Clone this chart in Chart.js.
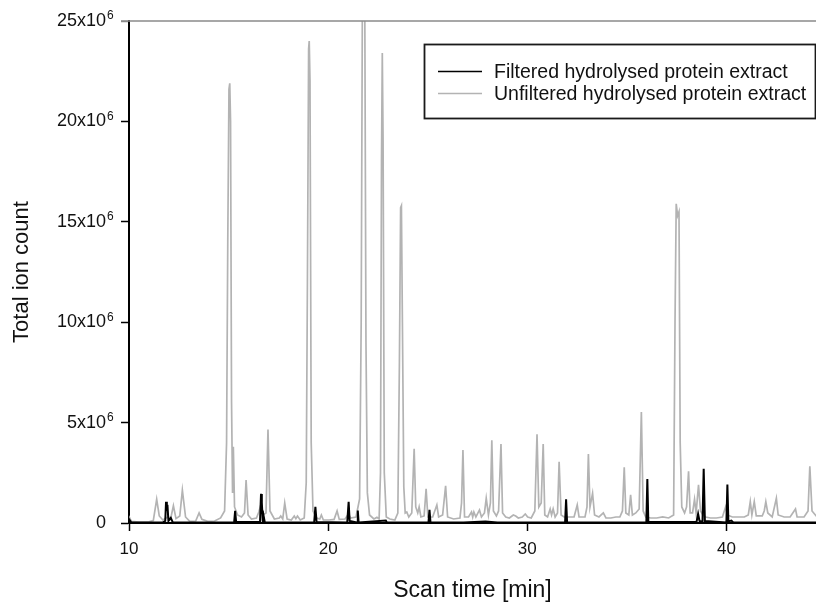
<!DOCTYPE html>
<html>
<head>
<meta charset="utf-8">
<script src="https://cdn.jsdelivr.net/npm/chart.js@4/dist/chart.umd.min.js"></script>
<style>
  html, body { margin: 0; padding: 0; background: #fff; }
  #wrap { width: 816px; height: 605px; position: relative; }
</style>
</head>
<body>
<div id="wrap"><canvas id="c" width="816" height="605"></canvas></div>
<script>
// ---- data (scan time in min, total ion count in units of 10^6) ----
const seriesLabels = ['Filtered hydrolysed protein extract', 'Unfiltered hydrolysed protein extract'];
const yTickValues = [0, 5, 10, 15, 20, 25];
const yTickExponent = '6';
const xTickValues = [10, 20, 30, 40];

const filteredTime = [10.00,10.05,10.12,11.70,11.82,11.86,11.90,11.93,11.98,12.10,12.20,13.50,14.50,15.28,15.33,15.38,15.55,16.58,16.63,16.67,16.72,16.76,16.82,19.30,19.36,19.42,20.96,21.03,21.08,21.45,21.49,21.53,22.90,22.95,24.00,25.04,25.09,25.14,26.80,27.90,28.50,31.90,31.95,32.00,34.40,35.98,36.03,36.08,38.50,38.58,38.65,38.80,38.86,38.92,40.00,40.05,40.10,40.25,40.35,44.55];
const filteredCount = [0.02,0.12,0.02,0.03,0.10,1.06,0.60,0.90,0.10,0.25,0.03,0.03,0.03,0.03,0.60,0.05,0.05,0.05,1.45,1.00,0.05,0.35,0.03,0.03,0.80,0.05,0.03,1.06,0.10,0.03,0.62,0.03,0.12,0.03,0.03,0.03,0.65,0.03,0.03,0.08,0.03,0.03,1.18,0.03,0.03,0.03,2.19,0.05,0.05,0.45,0.10,0.05,2.70,0.10,0.03,1.92,0.08,0.12,0.03,0.03];

const unfilteredTime = [10.00,10.05,10.12,10.50,11.00,11.22,11.39,11.52,11.70,11.95,12.10,12.23,12.36,12.55,12.68,12.84,13.05,13.35,13.52,13.66,13.95,14.30,14.60,14.80,14.90,14.96,15.02,15.06,15.10,15.15,15.20,15.24,15.30,15.45,15.65,15.80,15.88,15.98,16.15,16.40,16.52,16.62,16.72,16.88,16.98,17.08,17.30,17.55,17.62,17.72,17.82,17.94,18.15,18.30,18.38,18.46,18.60,18.80,18.90,18.96,19.02,19.05,19.09,19.15,19.24,19.42,19.58,19.66,19.76,20.05,20.30,20.45,20.56,20.85,21.02,21.12,21.40,21.58,21.66,21.72,21.84,21.90,21.97,22.08,22.30,22.45,22.56,22.63,22.68,22.72,22.76,22.82,22.92,23.10,23.35,23.50,23.58,23.64,23.68,23.73,23.80,23.87,23.95,24.05,24.20,24.32,24.40,24.50,24.57,24.66,24.82,24.92,25.01,25.25,25.46,25.55,25.75,25.90,26.00,26.30,26.62,26.70,26.77,26.85,27.05,27.20,27.26,27.32,27.42,27.60,27.70,27.85,27.94,28.05,28.15,28.22,28.30,28.45,28.56,28.68,28.76,28.92,29.10,29.30,29.42,29.55,29.75,29.90,30.02,30.20,30.38,30.49,30.58,30.70,30.80,30.88,31.02,31.15,31.22,31.30,31.40,31.52,31.60,31.70,31.85,32.10,32.35,32.51,32.60,32.90,33.00,33.07,33.15,33.28,33.38,33.60,33.82,33.95,34.20,34.45,34.65,34.78,34.87,34.95,35.10,35.19,35.28,35.45,35.62,35.73,35.82,35.95,36.20,36.50,36.80,37.10,37.35,37.42,37.48,37.55,37.62,37.68,37.76,37.90,38.00,38.10,38.18,38.30,38.40,38.48,38.60,38.70,38.82,38.95,39.20,39.50,39.80,39.96,40.05,40.30,40.60,40.90,41.10,41.20,41.28,41.40,41.50,41.80,41.90,41.98,42.08,42.30,42.51,42.60,42.90,43.20,43.47,43.55,43.90,44.10,44.19,44.30,44.55];
const unfilteredCount = [0.05,0.22,0.08,0.05,0.06,0.12,1.18,0.35,0.15,0.30,0.25,0.86,0.22,0.35,1.64,0.30,0.08,0.10,0.50,0.18,0.08,0.10,0.25,0.60,4.0,14.0,21.6,21.9,20.0,6.0,1.5,3.8,0.8,0.40,0.30,0.50,2.14,0.40,0.20,0.25,0.55,0.90,0.40,0.50,4.66,0.60,0.20,0.25,0.35,0.20,1.00,0.20,0.15,0.35,0.22,0.35,0.15,0.25,2.0,12.0,23.6,24.0,22.0,4.0,0.6,0.25,0.20,0.40,0.15,0.15,0.18,0.60,0.18,0.20,0.45,0.25,0.30,1.2,10.0,26.0,26.0,9.0,1.5,0.40,0.20,0.28,0.20,2.5,18.0,23.4,19.0,2.5,0.30,0.20,0.15,0.50,8.0,15.7,15.8,10.0,1.8,0.50,0.55,0.30,0.50,3.70,0.80,0.50,0.80,0.30,0.35,1.70,0.30,0.30,0.90,0.30,0.40,1.85,0.30,0.20,0.25,1.00,3.63,0.30,0.30,0.55,0.30,0.55,0.30,0.65,0.30,0.50,1.23,0.40,1.00,4.12,0.60,0.35,0.60,3.93,0.50,0.30,0.25,0.40,0.35,0.25,0.30,0.45,0.30,0.25,0.60,4.42,0.80,1.00,3.93,0.40,0.30,0.70,0.40,0.70,0.30,0.50,3.05,0.40,0.30,0.30,0.30,0.90,0.30,0.30,0.80,3.43,0.80,1.48,0.40,0.30,0.50,0.25,0.25,0.30,0.30,0.60,2.77,0.50,0.40,1.40,0.40,0.50,0.70,5.53,0.60,0.30,0.25,0.25,0.30,0.25,0.40,10.0,15.9,15.3,15.5,4.0,0.8,0.50,0.80,2.57,0.50,0.50,1.18,0.50,1.90,0.60,0.40,0.30,0.25,0.25,0.30,0.80,0.40,0.30,0.30,0.30,0.40,1.06,0.40,1.06,0.35,0.35,0.60,1.06,0.50,0.30,1.23,0.40,0.30,0.30,0.70,0.30,0.30,0.60,2.83,0.60,0.30];

const toPoints = (xs, ys) => xs.map((x, i) => ({ x: x, y: ys[i] }));

const FONT = "'Liberation Sans', Arial, Helvetica, sans-serif";
const filteredColor = '#000000';
const unfilteredColor = '#b3b3b3';
const Y_TICK_LEN = 8, Y_TICK_PAD = 15;

const frameAndLegend = {
  id: 'frameAndLegend',
  afterDatasetsDraw(chart) {
    const { ctx, chartArea } = chart;
    ctx.save();
    ctx.strokeStyle = '#8a8a8a';
    ctx.lineWidth = 1.5;
    ctx.beginPath();
    ctx.moveTo(chartArea.left - 8, chartArea.top);
    ctx.lineTo(chartArea.right, chartArea.top);
    ctx.stroke();
    ctx.restore();
  },
  afterDraw(chart) {
    const { ctx } = chart;
    // exponent of the y tick labels (x10^6)
    const ys = chart.scales.y;
    ctx.save();
    ctx.fillStyle = '#111';
    ctx.font = '12px ' + FONT;
    ctx.textAlign = 'left';
    ctx.textBaseline = 'middle';
    ys.ticks.forEach(t => {
      if (t.value === 0) return;
      const py = ys.getPixelForValue(t.value);
      ctx.fillText(yTickExponent, ys.right - Y_TICK_LEN - Y_TICK_PAD + 1, py - 5);
    });
    ctx.restore();

    // legend
    const bx = 424, by = 44, bw = 391, bh = 74;
    ctx.save();
    ctx.fillStyle = '#fff';
    ctx.fillRect(bx, by, bw, bh);
    ctx.strokeStyle = '#1a1a1a';
    ctx.lineWidth = 1.8;
    ctx.strokeRect(bx + 0.5, by + 0.5, bw, bh);
    const rows = [71.5, 93.5];
    chart.data.datasets.forEach((ds, i) => {
      ctx.strokeStyle = ds.borderColor;
      ctx.lineWidth = 1.5;
      ctx.beginPath();
      ctx.moveTo(438, rows[i]);
      ctx.lineTo(482, rows[i]);
      ctx.stroke();
      ctx.fillStyle = '#111';
      ctx.font = '19.5px ' + FONT;
      ctx.textBaseline = 'middle';
      ctx.textAlign = 'left';
      ctx.fillText(ds.label, 494, rows[i] + 1);
    });
    ctx.restore();
  }
};

new Chart(document.getElementById('c'), {
  type: 'line',
  data: {
    datasets: [
      {
        label: seriesLabels[0],
        data: toPoints(filteredTime, filteredCount),
        borderColor: filteredColor,
        borderWidth: 2,
        pointRadius: 0,
        tension: 0,
        fill: false
      },
      {
        label: seriesLabels[1],
        data: toPoints(unfilteredTime, unfilteredCount),
        borderColor: unfilteredColor,
        borderWidth: 1.7,
        pointRadius: 0,
        tension: 0,
        fill: false
      }
    ]
  },
  options: {
    responsive: false,
    animation: false,
    events: [],
    layout: { padding: { top: 21, right: 0, left: 0, bottom: 0 } },
    plugins: { legend: { display: false }, tooltip: { enabled: false } },
    scales: {
      x: {
        type: 'linear',
        min: 10,
        max: 44.5,
        afterBuildTicks: (axis) => { axis.ticks = xTickValues.map(v => ({ value: v })); },
        ticks: { color: '#111', font: { size: 17, family: FONT }, padding: 8, maxRotation: 0 },
        grid: { drawOnChartArea: false, drawTicks: true, tickLength: 8, tickColor: '#000', tickWidth: 1.5 },
        border: { display: true, color: '#000', width: 2 },
        title: { display: true, text: 'Scan time [min]', color: '#111', font: { size: 23, family: FONT }, padding: { top: 0, bottom: 1 } },
        afterFit: (s) => { s.height = 82; s.paddingLeft = 0; s.paddingRight = 0; }
      },
      y: {
        type: 'linear',
        min: 0,
        max: 25,
        afterBuildTicks: (axis) => { axis.ticks = yTickValues.map(v => ({ value: v })); },
        ticks: {
          color: '#111',
          font: { size: 18, family: FONT },
          padding: Y_TICK_PAD,
          callback: (v) => (v === 0 ? '0' : v + 'x10')
        },
        grid: {
          drawOnChartArea: false, drawTicks: true, tickLength: Y_TICK_LEN, tickWidth: 1.5,
          tickColor: (c) => (c.tick && c.tick.value === 25 ? '#8a8a8a' : '#000')
        },
        border: { display: true, color: '#000', width: 2 },
        title: { display: true, text: 'Total ion count', color: '#111', font: { size: 22, family: FONT }, padding: { top: 9, bottom: 0 } },
        afterFit: (s) => { s.width = 129; s.paddingTop = 0; s.paddingBottom = 0; }
      }
    }
  },
  plugins: [frameAndLegend]
});
</script>
</body>
</html>
